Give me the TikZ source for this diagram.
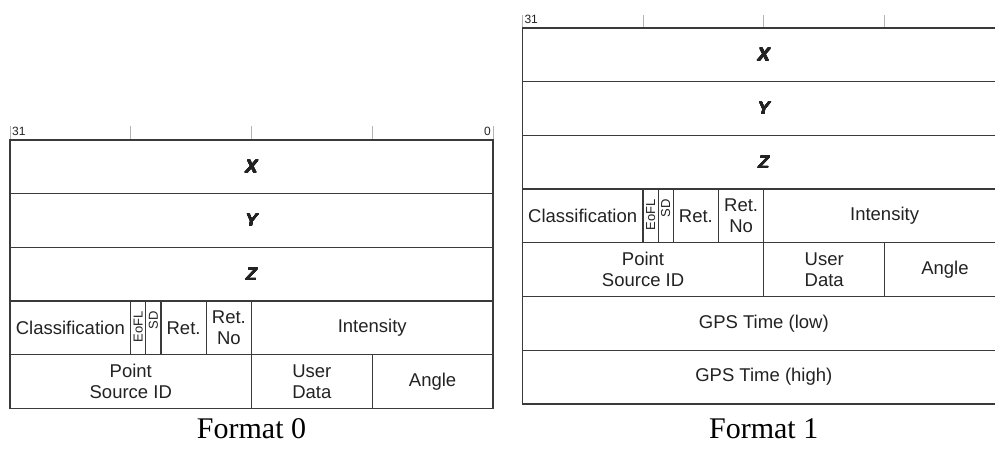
\documentclass[tikz,border=0pt]{standalone}
\usepackage{fontspec}
\usepackage{contour}
\setmainfont{Liberation Serif}
\setsansfont{Liberation Sans}
\contourlength{0.25pt}
\contournumber{16}

\definecolor{gridline}{HTML}{3A3A3A}
\definecolor{tickgray}{HTML}{B4B4B4}
\definecolor{ink}{HTML}{222222}

\tikzset{
  cell/.style={draw=gridline, line width=1.3pt, inner sep=0pt, outer sep=0pt,
    minimum height=53.7pt, anchor=north west, align=center, text=ink,
    font=\sffamily\fontsize{18.5}{21}\selectfont},
  bits/.style={minimum width=#1*15.094pt},
  axisname/.style={font=\sffamily\fontsize{18}{20}\selectfont\bfseries\itshape, text=ink},
  flagtext/.style={rotate=90, anchor=east, inner sep=0pt, text=ink,
    font=\sffamily\fontsize{13}{13}\selectfont},
  tickmark/.style={draw=tickgray, line width=1pt},
  bitnum/.style={inner sep=0pt, text=ink, font=\sffamily\fontsize{12}{12}\selectfont},
  caption/.style={inner sep=0pt, text=black, font=\rmfamily\fontsize{30}{30}\selectfont}
}

% Heavy coordinate names
\newcommand\axislabel[1]{\contour{ink}{#1}}

% One 20-byte point record: X, Y, Z, flag word, point source / user data / angle
\newcommand\recordrows[1]{%
  \node[cell, bits=32] (#1-x) at (0,0) {};
  \node[axisname] (#1-xl) at (#1-x.center) {\axislabel{X}};
  \node[cell, bits=32] (#1-y) at (#1-x.south west) {};
  \node[axisname] (#1-yl) at (#1-y.center) {\axislabel{Y}};
  \node[cell, bits=32] (#1-z) at (#1-y.south west) {};
  \node[axisname] (#1-zl) at (#1-z.center) {\axislabel{Z}};
  \node[cell, bits=8] (#1-cls) at (#1-z.south west) {Classification};
  \node[cell, bits=1] (#1-eofl) at (#1-cls.north east) {};
  \node[cell, bits=1] (#1-sd) at (#1-eofl.north east) {};
  \node[cell, bits=3] (#1-ret) at (#1-sd.north east) {Ret.};
  \node[cell, bits=3] (#1-retno) at (#1-ret.north east) {Ret.\\No};
  \node[cell, bits=16] (#1-int) at (#1-retno.north east) {Intensity};
  \node[flagtext] (#1-eofll) at ([yshift=-10pt]#1-eofl.north) {EoFL};
  \node[flagtext] (#1-sdl) at ([yshift=-10pt]#1-sd.north) {SD};
  \node[cell, bits=16] (#1-psid) at (#1-cls.south west) {Point\\Source ID};
  \node[cell, bits=8] (#1-ud) at (#1-psid.north east) {User\\Data};
  \node[cell, bits=8] (#1-ang) at (#1-ud.north east) {Angle};
}

% Bit ruler above a record, ticks every byte
\newcommand\bitruler[1]{%
  \foreach \k in {0,8,16,24,32}
    \draw[tickmark] (\k*15.094,0) -- (\k*15.094,-#1);
}

\begin{document}
\begin{tikzpicture}[x=1pt, y=-1pt]
  \useasboundingbox (0,0) rectangle (995,451);
  \clip (0,0) rectangle (995,451);

  % Format 0
  \begin{scope}[shift={(10,140)}]
    \bitruler{14}
    \node[bitnum, anchor=base west] (f0-msb) at (2,-5) {31};
    \node[bitnum, anchor=base east] (f0-lsb) at (32*15.094-2,-5) {0};
    \recordrows{f0}
  \end{scope}
  \node[caption] (cap0) at (251.5,429) {Format 0};

  % Format 1
  \begin{scope}[shift={(522.3,28)}]
    \bitruler{13}
    \node[bitnum, anchor=base west] (f1-msb) at (2,-5) {31};
    \recordrows{f1}
    \node[cell, bits=32] (f1-gpslo) at (f1-psid.south west) {GPS Time (low)};
    \node[cell, bits=32] (f1-gpshi) at (f1-gpslo.south west) {GPS Time (high)};
  \end{scope}
  \node[caption] (cap1) at (763.7,429) {Format 1};
\end{tikzpicture}
\end{document}
